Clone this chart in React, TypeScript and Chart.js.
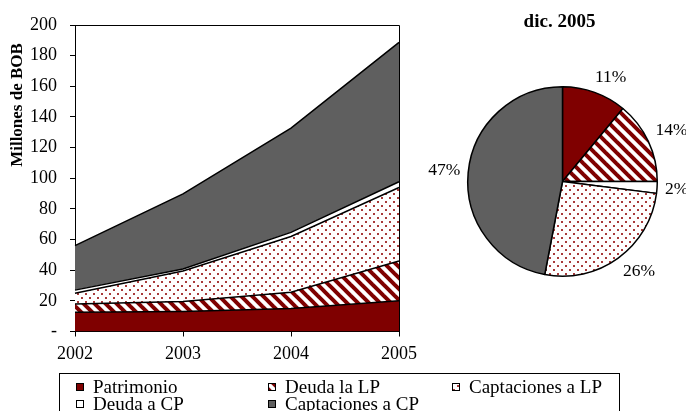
import React, { useEffect, useRef } from "react";
import { Chart, registerables } from "chart.js";

Chart.register(...registerables);

// ---------- data ----------
const years = ["2002", "2003", "2004", "2005"];
const seriesNames = ["Patrimonio", "Deuda la LP", "Captaciones a LP", "Deuda a CP", "Captaciones a CP"];
const patrimonio = [12.5, 13, 15, 20];
const deudaLP = [5.5, 6.5, 10.6, 26];
const captacionesLP = [7, 20, 36.4, 48];
const deudaCP = [2, 1.3, 2.7, 3.7];
const captacionesCP = [29, 49, 68, 91];
const yMin = 0;
const yMax = 200;
const yStep = 20;
const zeroTickLabel = "-";
const yAxisTitle = "Millones de BOB";

const pieTitle = "dic. 2005";
const pieNames = ["Patrimonio", "Deuda la LP", "Deuda a CP", "Captaciones a LP", "Captaciones a CP"];
const pieShares = [11, 14, 2, 26, 47];

// ---------- styles ----------
const DARK_RED = "#7f0000";
const GRAY = "#5f5f5f";
const SERIF = '"Liberation Serif", "Times New Roman", serif';

function stripePattern(ctx: CanvasRenderingContext2D) {
  const s = 11;
  const c = document.createElement("canvas");
  c.width = s;
  c.height = s;
  const g = c.getContext("2d")!;
  g.fillStyle = "#fff";
  g.fillRect(0, 0, s, s);
  g.strokeStyle = DARK_RED;
  g.lineWidth = 4;
  for (const off of [-s, 0, s]) {
    g.beginPath();
    g.moveTo(off - 2, -2);
    g.lineTo(off + s + 2, s + 2);
    g.stroke();
  }
  return ctx.createPattern(c, "repeat")!;
}

function dotPattern(ctx: CanvasRenderingContext2D) {
  const s = 8;
  const c = document.createElement("canvas");
  c.width = s;
  c.height = s;
  const g = c.getContext("2d")!;
  g.fillStyle = "#fff";
  g.fillRect(0, 0, s, s);
  g.fillStyle = "#a83a3a";
  g.fillRect(1, 1, 2, 2);
  g.fillRect(5, 5, 2, 2);
  return ctx.createPattern(c, "repeat")!;
}

const clamp = (v: number) => Math.max(-1, Math.min(1, v));

export default function App() {
  const areaRef = useRef<HTMLCanvasElement>(null);
  const pieRef = useRef<HTMLCanvasElement>(null);

  useEffect(() => {
    const actx = areaRef.current!.getContext("2d")!;
    const pctx = pieRef.current!.getContext("2d")!;
    const stripes = stripePattern(actx);
    const dots = dotPattern(actx);
    const areaFills: any[] = [DARK_RED, stripes, dots, "#ffffff", GRAY];
    const series = [patrimonio, deudaLP, captacionesLP, deudaCP, captacionesCP];

    const frameAndExtras = {
      id: "frameAndExtras",
      afterDraw(chart: any) {
        const { ctx, chartArea } = chart;
        ctx.save();
        // frame top + right
        ctx.strokeStyle = "#000";
        ctx.lineWidth = 1;
        ctx.beginPath();
        ctx.moveTo(chartArea.left, Math.round(chartArea.top) + 0.5);
        ctx.lineTo(Math.round(chartArea.right) + 0.5, Math.round(chartArea.top) + 0.5);
        ctx.lineTo(Math.round(chartArea.right) + 0.5, chartArea.bottom);
        ctx.stroke();
        // y title
        ctx.save();
        ctx.translate(18, 105);
        ctx.rotate(-Math.PI / 2);
        ctx.font = `bold 17px ${SERIF}`;
        ctx.fillStyle = "#000";
        ctx.textAlign = "center";
        ctx.textBaseline = "middle";
        ctx.fillText(yAxisTitle, 0, 0);
        ctx.restore();
        // legend
        ctx.strokeStyle = "#000";
        ctx.lineWidth = 1;
        ctx.strokeRect(59.5, 373.5, 560, 60);
        const colX = [76, 268, 452];
        const rowY = [387, 404];
        ctx.font = `19px ${SERIF}`;
        ctx.textAlign = "left";
        ctx.textBaseline = "middle";
        chart.data.datasets.forEach((ds: any, i: number) => {
          const cx = colX[i % 3];
          const cy = rowY[Math.floor(i / 3)];
          ctx.fillStyle = ds.backgroundColor;
          ctx.fillRect(cx, cy - 4, 8, 8);
          ctx.strokeRect(cx + 0.5, cy - 4 + 0.5, 7, 7);
          ctx.fillStyle = "#000";
          ctx.fillText(ds.label, cx + 17, cy + 1);
        });
        ctx.restore();
      },
    };

    const area = new Chart(areaRef.current!, {
      type: "line",
      data: {
        labels: years,
        datasets: series.map((d, i) => ({
          label: seriesNames[i],
          data: d,
          backgroundColor: areaFills[i],
          borderColor: "#000",
          borderWidth: 1.5,
          fill: i === 0 ? "origin" : "-1",
          pointRadius: 0,
          tension: 0,
        })),
      },
      options: {
        animation: false,
        responsive: false,
        devicePixelRatio: 1,
        layout: { padding: { left: 0, top: 25, right: 287, bottom: 39.5 } },
        plugins: { legend: { display: false }, tooltip: { enabled: false } },
        scales: {
          x: {
            grid: { display: true, drawOnChartArea: false, drawTicks: true, tickLength: 5, color: "#000" },
            border: { display: true, color: "#000", width: 1 },
            ticks: { color: "#000", font: { family: SERIF, size: 18 }, padding: 7, maxRotation: 0 },
            afterFit: (s: any) => {
              s.height = 40;
            },
          },
          y: {
            stacked: true,
            min: yMin,
            max: yMax,
            grid: { display: true, drawOnChartArea: false, drawTicks: true, tickLength: 5, color: "#000" },
            border: { display: true, color: "#000", width: 1 },
            ticks: {
              stepSize: yStep,
              color: "#000",
              font: { family: SERIF, size: 18 },
              padding: 13,
              callback: (v: any) => (Number(v) === 0 ? zeroTickLabel : String(v)),
            },
            afterFit: (s: any) => {
              s.width = 75;
            },
          },
        },
      },
      plugins: [frameAndExtras],
    });

    const pieFills: any[] = [DARK_RED, stripePattern(pctx), "#ffffff", dotPattern(pctx), GRAY];
    const pieExtras = {
      id: "pieExtras",
      afterDraw(chart: any) {
        const { ctx, chartArea } = chart;
        ctx.save();
        ctx.fillStyle = "#000";
        ctx.font = `bold 19px ${SERIF}`;
        ctx.textAlign = "center";
        ctx.textBaseline = "alphabetic";
        ctx.fillText(pieTitle, (chartArea.left + chartArea.right) / 2 - 3, 26.5);
        ctx.font = `17.5px ${SERIF}`;
        ctx.textBaseline = "middle";
        const meta = chart.getDatasetMeta(0);
        meta.data.forEach((arc: any, i: number) => {
          const p = arc.getProps(["x", "y", "startAngle", "endAngle", "outerRadius"], true);
          const mid = (p.startAngle + p.endAngle) / 2;
          const ux = Math.cos(mid);
          const uy = Math.sin(mid);
          const text = `${chart.data.datasets[0].data[i]}%`;
          const w = ctx.measureText(text).width;
          const h = 14;
          const r = p.outerRadius + 8;
          const lx = p.x + ux * r + (w / 2) * clamp(ux * 2.5);
          const ly = p.y + uy * r + (h / 2) * clamp(uy * 2.5);
          ctx.fillText(text, lx, ly);
        });
        ctx.restore();
      },
    };

    const pie = new Chart(pieRef.current!, {
      type: "pie",
      data: {
        labels: pieNames,
        datasets: [
          {
            data: pieShares,
            backgroundColor: pieFills,
            borderColor: "#000",
            borderWidth: 1.5,
          },
        ],
      },
      options: {
        animation: false,
        responsive: false,
        devicePixelRatio: 1,
        layout: { padding: { left: 47, right: 28, top: 86, bottom: 23 } },
        plugins: { legend: { display: false }, tooltip: { enabled: false } },
      },
      plugins: [pieExtras],
    });

    return () => {
      area.destroy();
      pie.destroy();
    };
  }, []);

  return (
    <div style={{ position: "absolute", left: 0, top: 0, width: 686, height: 411, background: "#fff", overflow: "hidden" }}>
      <canvas ref={areaRef} width={686} height={411} style={{ position: "absolute", left: 0, top: 0, width: 686, height: 411 }} />
      <canvas ref={pieRef} width={266} height={300} style={{ position: "absolute", left: 420, top: 0, width: 266, height: 300 }} />
    </div>
  );
}
